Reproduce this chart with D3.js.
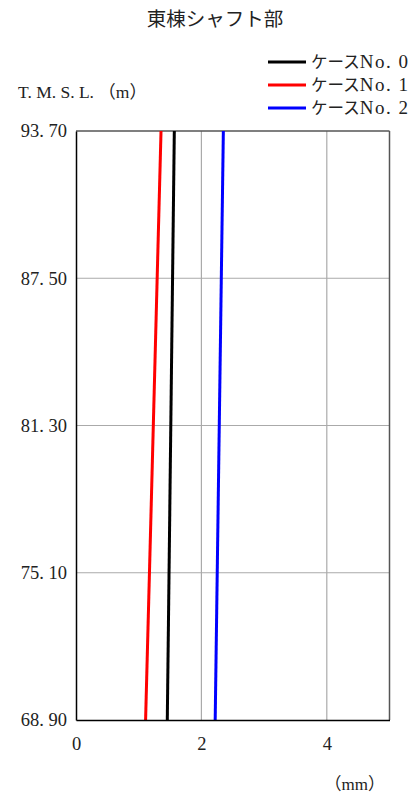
<!DOCTYPE html>
<html><head><meta charset="utf-8">
<script src="https://cdn.jsdelivr.net/npm/d3@7"></script>
<style>body{margin:0;background:#fff}text{font-family:"Liberation Serif","DejaVu Serif","Noto Sans CJK JP",serif;fill:#222}</style>
</head><body><svg id="c" width="418" height="798"></svg>
<script>
const title = "東棟シャフト部";
const yLabel = "T. M. S. L. （m）";
const xLabel = "（mm）";
const elevations = [68.9, 93.7];
const yTicks = [68.9, 75.1, 81.3, 87.5, 93.7];
const yTickLabels = ["68. 90", "75. 10", "81. 30", "87. 50", "93. 70"];
const xTicks = [0, 2, 4];
const seriesPrefix = "ケース";
const seriesNames = ["No. 0", "No. 1", "No. 2"];
const seriesColors = ["#000000", "#ff0000", "#0000ff"];
const case0 = [1.456, 1.568];
const case1 = [1.11, 1.356];
const case2 = [2.22, 2.35];
const seriesValues = [case0, case1, case2];

const svg = d3.select("#c");
const L = 76, R = 389.5, T = 131, B = 720;
const x = d3.scaleLinear().domain([0, 5]).range([L, R]);
const y = d3.scaleLinear().domain([68.9, 93.7]).range([B, T]);

// grid
svg.append("g").selectAll("line").data([2, 4]).join("line")
  .attr("x1", d => x(d)).attr("x2", d => x(d)).attr("y1", T).attr("y2", B)
  .attr("stroke", "#aaa").attr("stroke-width", 1.2);
svg.append("g").selectAll("line").data([75.1, 81.3, 87.5]).join("line")
  .attr("y1", d => y(d)).attr("y2", d => y(d)).attr("x1", L).attr("x2", R)
  .attr("stroke", "#aaa").attr("stroke-width", 1.2);

// frame
svg.append("line").attr("x1", L).attr("x2", R).attr("y1", T).attr("y2", T).attr("stroke", "#555").attr("stroke-width", 1.5);
svg.append("line").attr("x1", R).attr("x2", R).attr("y1", T).attr("y2", B).attr("stroke", "#555").attr("stroke-width", 1.5);

// series
const line = d3.line().x(d => x(d[0])).y(d => y(d[1]));
seriesValues.forEach((vals, i) => {
  svg.append("path").datum(vals.map((v, j) => [v, elevations[j]]))
    .attr("d", line).attr("fill", "none").attr("stroke", seriesColors[i]).attr("stroke-width", 3);
});

// axes
const ya = svg.append("g").attr("transform", `translate(${L},0)`)
  .call(d3.axisLeft(y).tickValues(yTicks).tickSize(0).tickPadding(9).tickFormat((d, i) => yTickLabels[i]));
ya.select(".domain").attr("stroke", "#000").attr("stroke-width", 1.5);
ya.selectAll("text").attr("font-size", 18.5).style("font-family", '"Liberation Serif","DejaVu Serif",serif').attr("fill", "#222");
const xa = svg.append("g").attr("transform", `translate(0,${B})`)
  .call(d3.axisBottom(x).tickValues(xTicks).tickSize(0).tickPadding(17).tickFormat(d3.format("d")));
xa.select(".domain").attr("stroke", "#000").attr("stroke-width", 1.5);
xa.selectAll("text").attr("font-size", 18.5).style("font-family", '"Liberation Serif","DejaVu Serif",serif').attr("fill", "#222");

// labels
svg.append("text").attr("x", 215).attr("y", 26).attr("text-anchor", "middle").attr("font-size", 19.5).text(title);
svg.append("text").attr("x", 18).attr("y", 98).attr("font-size", 17.5).text(yLabel);
svg.append("text").attr("x", 385).attr("y", 790).attr("text-anchor", "end").attr("font-size", 17).text(xLabel);

// legend
seriesNames.forEach((n, i) => {
  const ly = 62 + i * 23;
  svg.append("line").attr("x1", 268).attr("x2", 306).attr("y1", ly).attr("y2", ly)
    .attr("stroke", seriesColors[i]).attr("stroke-width", 3);
  const t = svg.append("text").attr("x", 311).attr("y", ly + 6);
  t.append("tspan").attr("font-size", 16.5).text(seriesPrefix);
  t.append("tspan").attr("font-size", 19).attr("letter-spacing", 1.5).text(n);
});
</script></body></html>
